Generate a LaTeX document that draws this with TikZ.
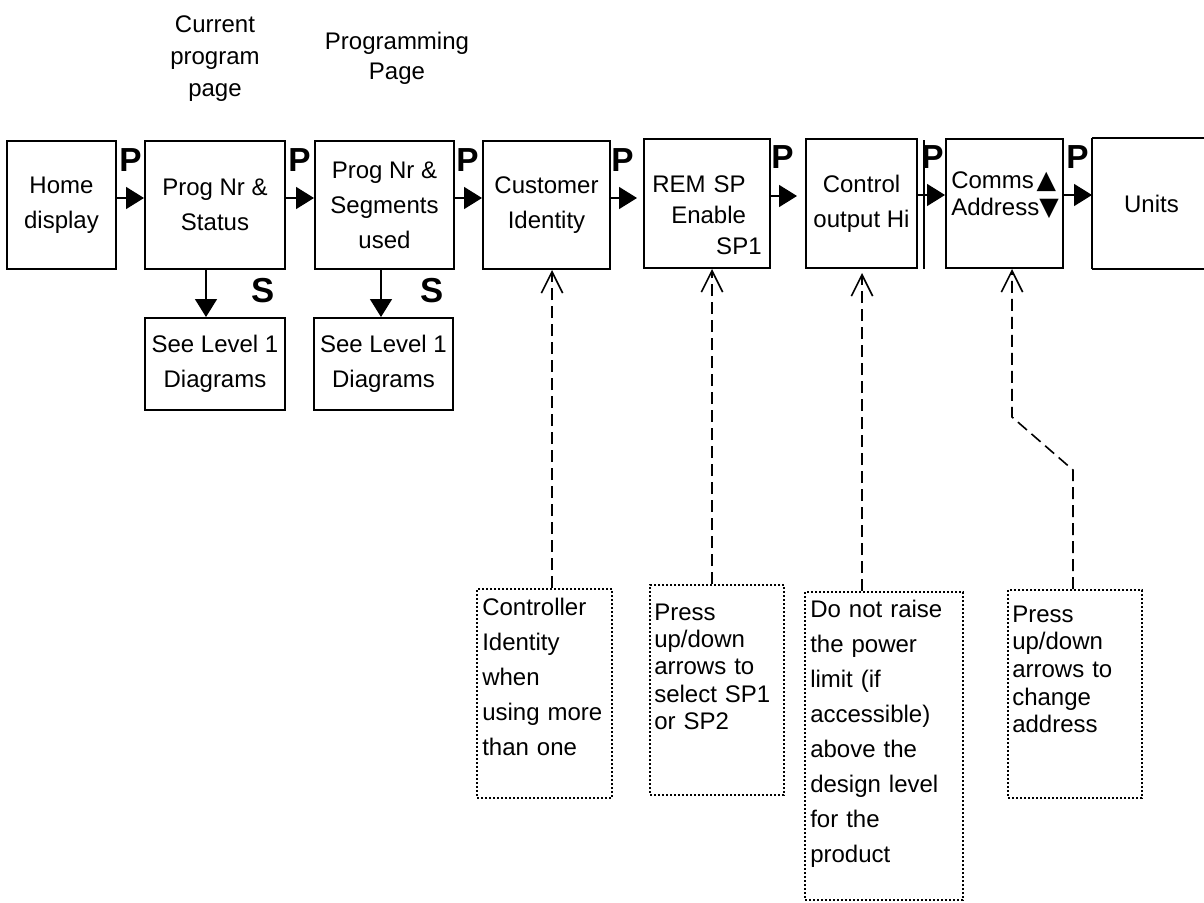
\documentclass[tikz,border=0pt]{standalone}
\usepackage{fontspec}
\setmainfont{Liberation Sans}
\newfontfamily\symfont{DejaVu Sans}
\usetikzlibrary{arrows.meta,calc}
\begin{document}
\begin{tikzpicture}[x=0.75pt,y=-0.75pt,
  box/.style={draw, line width=1.5pt, inner sep=0pt, align=center,
    font=\fontsize{18}{26.25}\selectfont},
  note/.style={draw, line width=1.5pt, dash pattern=on 1.5pt off 1.5pt, inner sep=0pt},
  notetext/.style={inner sep=0pt, anchor=base west, text width=120pt, align=left},
  plabel/.style={inner sep=0pt, anchor=base west, font=\fontsize{25}{25}\selectfont\bfseries},
  slabel/.style={inner sep=0pt, anchor=base west, font=\fontsize{26}{26}\selectfont\bfseries},
  flow/.style={line width=1.2pt, -{Triangle[length=13.5pt,width=16.5pt]}},
  noteline/.style={line width=1.2pt, dash pattern=on 9pt off 4.5pt,
    -{Straight Barb[length=16pt,width=16pt,line width=1.2pt]}},
  toplabel/.style={inner sep=0pt, anchor=base, text width=120pt, align=center}
]
\useasboundingbox (0,0) rectangle (1204,903);
\clip (0,0) rectangle (1204,903);

% top labels
\node[toplabel, font=\fontsize{18}{24}\selectfont] (curlbl) at (215,32) {Current\\program\\page};
\node[toplabel, font=\fontsize{18}{22.5}\selectfont] (proglbl) at (397,50) {Programming\\Page};

% main boxes
\node[box, minimum width=81.75pt, minimum height=96pt] (home) at (61.5,205) {Home\\display};
\node[box, minimum width=105pt, minimum height=96pt] (prog) at (215,205) {Prog Nr \&\\Status};
\node[box, minimum width=104.25pt, minimum height=96pt] (seg) at (384.5,205) {Prog Nr \&\\Segments\\used};
\node[box, minimum width=95.25pt, minimum height=96pt] (cust) at (546.5,205) {Customer\\Identity};
\node[box, minimum width=94.5pt, minimum height=96.75pt] (rem) at (707,203.5) {};
\node[inner sep=0pt, anchor=base west, text width=82pt, align=left,
      font=\fontsize{18}{23.6}\selectfont] (remt) at (652,192)
      {REM SP\\\hspace*{14.25pt}Enable\\\hspace*{0pt plus 1fill}SP1};
\node[box, minimum width=83.25pt, minimum height=96.75pt] (ctrl) at (861.5,203.5) {Control\\output Hi};
\node[box, minimum width=87.75pt, minimum height=96.75pt] (comms) at (1004.5,203.5) {};
\node[inner sep=0pt, anchor=base west, text width=85pt, align=left,
      font=\fontsize{18}{20.25}\selectfont] (commst) at (951,188)
      {Comms\hspace{2pt}{\symfont\fontsize{19}{19}\selectfont ▲}\\Address{\symfont\fontsize{19}{19}\selectfont ▼}};
\node[box, draw=none, minimum width=87.75pt, minimum height=96.75pt] (units) at (1151.5,203.5) {Units};
\draw[line width=1.5pt] (units.north west) -- (units.north east);
\draw[line width=1.5pt] (units.south west) -- (units.south east);
\draw[line width=0.8pt] (units.north west) -- (units.south west);
\draw[line width=2pt] (924,140) -- (924,269);

% sub boxes
\node[box, minimum width=105pt, minimum height=69pt] (see1) at (215,364) {See Level 1\\Diagrams};
\node[box, minimum width=104.25pt, minimum height=69pt] (see2) at (383.5,364) {See Level 1\\Diagrams};

% P and S labels
\node[plabel] (p1) at (119,171) {P};
\node[plabel] (p2) at (288,171) {P};
\node[plabel] (p3) at (456,171) {P};
\node[plabel] (p4) at (611,171) {P};
\node[plabel] (p5) at (771,168) {P};
\node[plabel] (p6) at (921,168) {P};
\node[plabel] (p7) at (1066,168) {P};
\node[slabel] (s1) at (251,302) {S};
\node[slabel] (s2) at (420,302) {S};

% flow arrows
\draw[flow] ($(home.east)+(0,-7)$) -- ($(prog.west)+(0,-7)$);
\draw[flow] ($(prog.east)+(0,-7)$) -- ($(seg.west)+(0,-7)$);
\draw[flow] ($(seg.east)+(0,-7)$) -- ($(cust.west)+(0,-7)$);
\draw[flow, shorten >=4.5pt] ($(cust.east)+(0,-7)$) -- ($(rem.west)+(0,-5.5)$);
\draw[flow, shorten >=6pt] ($(rem.east)+(0,-7.5)$) -- ($(ctrl.west)+(0,-7.5)$);
\draw[flow] ($(ctrl.east)+(0,-8.5)$) -- ($(comms.west)+(0,-8.5)$);
\draw[flow] ($(comms.east)+(0,-8.5)$) -- ($(units.west)+(0,-8.5)$);
\draw[flow] ($(prog.south)+(-9,0)$) -- ($(see1.north)+(-9,0)$);
\draw[flow] ($(seg.south)+(-3.5,0)$) -- ($(see2.north)+(-2.5,0)$);

% notes
\node[note, minimum width=101.25pt, minimum height=156.75pt] (n1) at (544.5,693.5) {};
\node[notetext, font=\fontsize{18}{26.25}\selectfont] (n1t) at (482,615)
  {Controller\\Identity\\when\\using more\\than one};
\node[note, minimum width=100.5pt, minimum height=157.5pt] (n2) at (717,690) {};
\node[notetext, font=\fontsize{18}{20.6}\selectfont] (n2t) at (654,620)
  {Press\\up/down\\arrows to\\select SP1\\or SP2};
\node[note, minimum width=118.5pt, minimum height=231pt] (n3) at (884,746) {};
\node[notetext, font=\fontsize{18}{26.25}\selectfont] (n3t) at (810,617)
  {Do not raise\\the power\\limit (if\\accessible)\\above the\\design level\\for the\\product};
\node[note, minimum width=100.5pt, minimum height=156pt] (n4) at (1075,694) {};
\node[notetext, font=\fontsize{18}{20.75}\selectfont] (n4t) at (1012,622)
  {Press\\up/down\\arrows to\\change\\address};

% dashed connectors
\draw[noteline] ($(n1.north)+(7.5,0)$) -- ($(cust.south)+(5.5,0)$);
\draw[noteline] ($(n2.north)+(-5,0)$) -- ($(rem.south)+(5,0)$);
\draw[noteline, shorten >=3pt] ($(n3.north)+(-22,0)$) -- ($(ctrl.south)+(0.5,0)$);
\coordinate (b1) at (1073,470);
\coordinate (b2) at (1012,417);
\draw[noteline] ($(n4.north)+(-2,0)$) -- (b1) -- (b2) -- ($(comms.south)+(7.5,0)$);
\end{tikzpicture}
\end{document}
